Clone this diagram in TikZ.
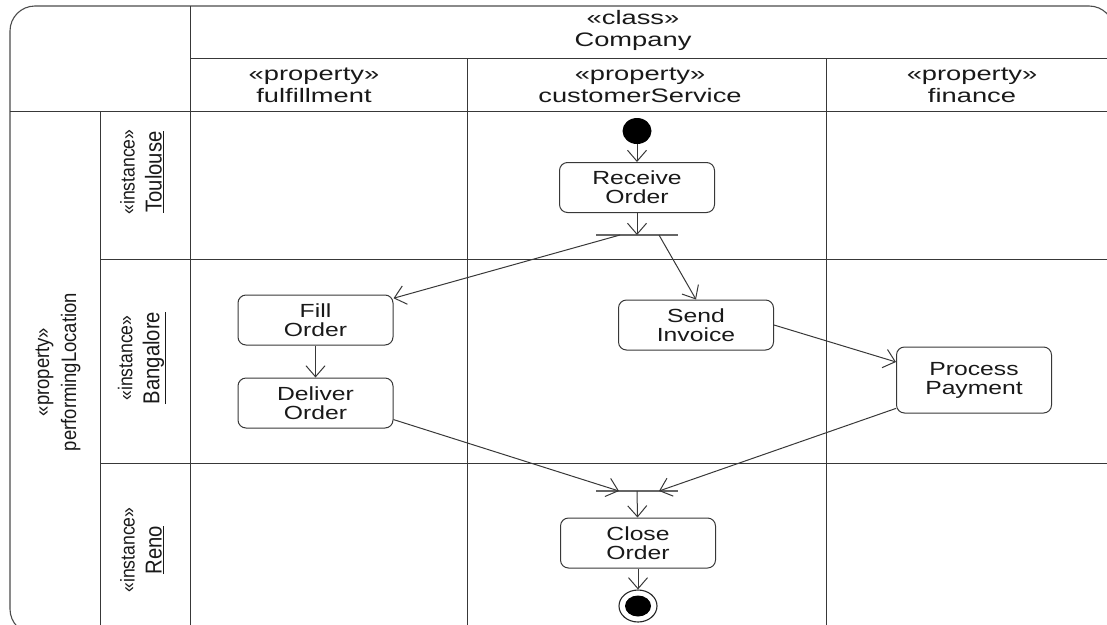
\documentclass[tikz,border=0pt]{standalone}
\usepackage{fontspec}
\setmainfont{Liberation Sans}
\newfontfamily\hfont[FakeStretch=1.4]{Liberation Sans}
\newfontfamily\nfont[FakeStretch=1.3]{Liberation Sans}
\newfontfamily\vfont[FakeStretch=0.88]{Liberation Sans}
\usetikzlibrary{arrows.meta,shapes.geometric}
\tikzset{
  ln/.style={draw=black!78, line width=1pt},
  frame/.style={draw=black!70, line width=1.1pt},
  act/.style={draw=black!78, line width=1pt, rounded corners=8pt, minimum width=155pt,
    minimum height=50pt, align=center, inner sep=0pt,
    font=\nfont\fontsize{19}{19}\selectfont, text=black!90},
  arr/.style={ln, -{Straight Barb[length=11pt,width=19pt]}},
  syncbar/.style={draw=none, fill=black!60, minimum width=82pt, minimum height=2.4pt, inner sep=0pt},
  hdr/.style={align=center, inner sep=0pt, font=\hfont\fontsize{19.5}{22}\selectfont, text=black!90},
  rowlab/.style={align=center, inner sep=0pt, rotate=90, font=\vfont\fontsize{23}{27}\selectfont, text=black!90}
}
\newcommand{\stereo}[1]{{\fontsize{20}{27}\selectfont #1}}
\begin{document}
\begin{tikzpicture}[x=1pt,y=-1pt]
\useasboundingbox (0,0) rectangle (1107,624);
\clip (0,0) rectangle (1107,624);
% outer frame
\draw[frame, rounded corners=25pt] (10,6) rectangle (1114,634);
% grid
\draw[ln] (190,6) -- (190,640);
\draw[ln] (190,58) -- (1120,58);
\draw[ln] (10,111) -- (1120,111);
\draw[ln] (100,111) -- (100,640);
\draw[ln] (467,58) -- (467,640);
\draw[ln] (826,58) -- (826,640);
\draw[ln] (100,259) -- (1120,259);
\draw[ln] (100,463) -- (1120,463);
% headers
\node[hdr] (cls) at (633,30) {«class»\\Company};
\node[hdr] (pful) at (314,85) {«property»\\fulfillment};
\node[hdr] (pcs) at (640,85) {«property»\\customerService};
\node[hdr] (pfin) at (972,85) {«property»\\finance};
% row labels
\node[rowlab] (ploc) at (58,372) {{\fontsize{21}{27}\selectfont «property»}\\{\fontsize{21}{27}\selectfont performingLocation}};
\node[rowlab] (tou) at (142,172) {\stereo{«instance»}\\\underline{Toulouse}};
\node[rowlab] (ban) at (142,358) {\stereo{«instance»}\\\underline{Bangalore}};
\node[rowlab] (ren) at (142,550) {\stereo{«instance»}\\\underline{Reno}};
% nodes
\node[ellipse, fill=black, minimum width=29pt, minimum height=26pt, inner sep=0pt] (init) at (637,131) {};
\node[act] (recv) at (637,187.5) {Receive\\Order};
\node[syncbar] (fork) at (637,235) {};
\coordinate (forkL) at (620,235);
\coordinate (forkR) at (659,235);
\node[act] (fill) at (315.5,320) {Fill\\Order};
\node[act] (deliv) at (315.5,403) {Deliver\\Order};
\node[act] (send) at (696,325) {Send\\Invoice};
\node[act, minimum height=66pt] (proc) at (974,380) {Process\\Payment};
\node[syncbar] (join) at (637,491) {};
\coordinate (joinL) at (619,491);
\coordinate (joinR) at (659,491);
\node[act] (close) at (638,543) {Close\\Order};
\node[ellipse, draw=black!85, line width=1.1pt, minimum width=38pt, minimum height=32pt, inner sep=0pt] (final) at (638,606) {};
\node[ellipse, fill=black, minimum width=26pt, minimum height=21pt, inner sep=0pt] (finalin) at (638,606) {};
% connectors
\draw[arr] (init) -- (recv);
\draw[arr] (recv) -- (fork.center);
\draw[arr] (forkL) -- (fill);
\draw[arr] (forkR) -- (send.north);
\draw[arr] (fill) -- (deliv);
\draw[arr] (send.east) -- (proc.167);
\draw[arr] (deliv.-12.5) -- (joinL);
\draw[arr] (proc.200) -- (joinR);
\draw[arr] (join.center) -- (close);
\draw[arr] (close) -- (final);
\end{tikzpicture}
\end{document}
